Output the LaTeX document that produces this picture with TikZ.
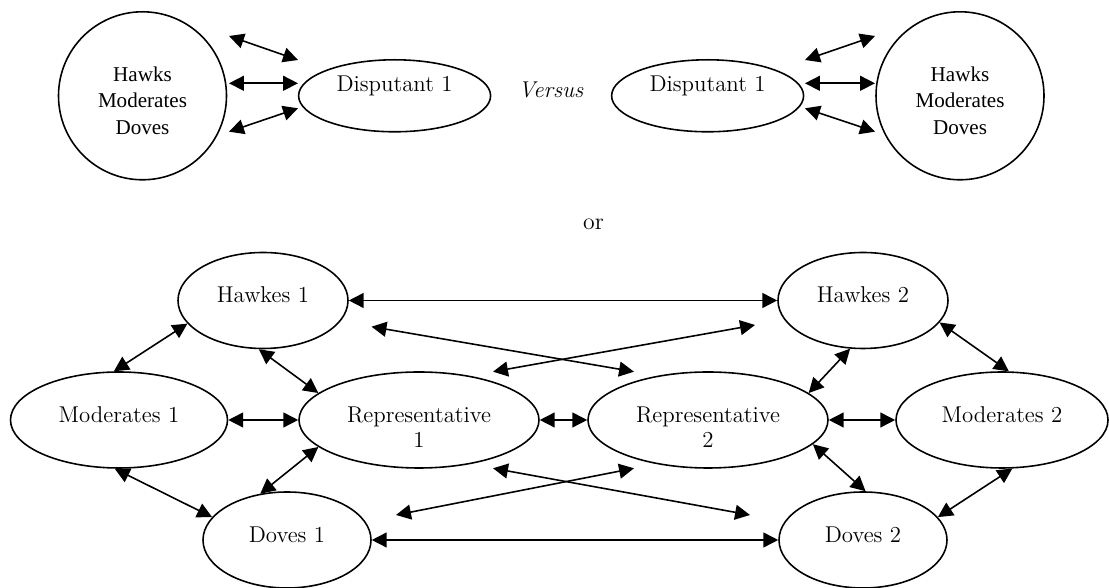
\documentclass[tikz,border=0pt]{standalone}
\usepackage{fontspec}
\newfontfamily\timesfont{Liberation Serif}
\usepackage{tikz}
\usetikzlibrary{shapes.geometric}
\usetikzlibrary{arrows.meta}

\tikzset{
  groupcirc/.style={draw, circle, line width=0.9pt, inner sep=0pt, minimum size=3.360000cm, align=center, text height=44pt, font=\timesfont\fontsize{12}{15}\selectfont},
  sidebox/.style={draw, ellipse, line width=0.9pt, inner sep=0pt, minimum width=3.840000cm, minimum height=1.440000cm, text height=9pt, text depth=14pt},
  partybox/.style={draw, ellipse, line width=0.9pt, inner sep=0pt, minimum height=1.920000cm, align=center},
  oneline/.style={text height=9pt, text depth=6.2pt},
  twoline/.style={text height=31.5pt},
  link/.style={line width=0.9pt, {Triangle[length=8.5pt,width=8.5pt]}-{Triangle[length=8.5pt,width=8.5pt]}},
}

\begin{document}
\begin{tikzpicture}[font=\fontsize{13}{14.2}\selectfont]
            \useasboundingbox (0,0) rectangle (22.180000,11.760000);%

            % Drawing the disputants and their groups
            \node [groupcirc] (circL) at (2.850000,9.844000) {Hawks\\Moderates\\Doves};%
            \node [sidebox] (dispL) at (7.892000,9.844000) {Disputant 1};%
            \node (versus) at (11.020000,9.960000) {\textit{Versus}};%
            \node [sidebox] (dispR) at (14.152000,9.844000) {Disputant 1};%
            \node [groupcirc] (circR) at (19.200000,9.844000) {Hawks\\Moderates\\Doves};%

            % Marking free ends of the upper arrows
            \coordinate (lta) at (4.580000,11.040000);%
            \coordinate (ltb) at (5.960000,10.560000);%
            \coordinate (lma) at (4.580000,10.094000);%
            \coordinate (lmb) at (5.960000,10.094000);%
            \coordinate (lba) at (4.580000,9.126000);%
            \coordinate (lbb) at (5.960000,9.594000);%
            \coordinate (rta) at (16.100000,10.560000);%
            \coordinate (rtb) at (17.500000,11.040000);%
            \coordinate (rma) at (16.100000,10.094000);%
            \coordinate (rmb) at (17.500000,10.094000);%
            \coordinate (rba) at (16.100000,9.594000);%
            \coordinate (rbb) at (17.500000,9.126000);%

            % Drawing the upper arrows
            \draw [link] (lta) -- (ltb);%
            \draw [link] (lma) -- (lmb);%
            \draw [link] (lba) -- (lbb);%
            \draw [link] (rta) -- (rtb);%
            \draw [link] (rma) -- (rmb);%
            \draw [link] (rba) -- (rbb);%

            % Marking the word in between
            \node [font=\fontsize{13.5}{15}\selectfont] (or) at (11.870000,7.280000) {or};%

            % Drawing the parties
            \node [partybox, oneline, minimum width=3.400000cm] (hawk1) at (5.260000,5.750000) {Hawkes 1};%
            \node [partybox, oneline, minimum width=3.400000cm] (hawk2) at (17.260000,5.750000) {Hawkes 2};%
            \node [partybox, oneline, minimum width=4.340000cm] (mod1) at (2.380000,3.360000) {Moderates 1};%
            \node [partybox, twoline, minimum width=4.800000cm] (rep1) at (8.380000,3.360000) {Representative\\1};%
            \node [partybox, twoline, minimum width=4.800000cm] (rep2) at (14.160000,3.360000) {Representative\\2};%
            \node [partybox, oneline, minimum width=4.240000cm] (mod2) at (20.040000,3.360000) {Moderates 2};%
            \node [partybox, oneline, minimum width=3.360000cm] (dove1) at (5.740000,0.960000) {Doves 1};%
            \node [partybox, oneline, minimum width=3.360000cm] (dove2) at (17.260000,0.960000) {Doves 2};%

            % Drawing straight links
            \draw [link] (hawk1.east) -- (hawk2.west);%
            \draw [link] (dove1.east) -- (dove2.west);%
            \draw [link] (mod1.east) -- (rep1.west);%
            \draw [link] (rep1.east) -- (rep2.west);%
            \draw [link] (rep2.east) -- (mod2.west);%

            % Drawing slanted links
            \draw [link] (mod1.96) -- (hawk1.197);%
            \draw [link] (hawk1.265) -- (rep1.165);%
            \draw [link] (mod1.265) -- (dove1.163);%
            \draw [link] (rep1.195) -- (dove1.120);%
            \draw [link] (hawk2.255) -- (rep2.15);%
            \draw [link] (hawk2.344) -- (mod2.82);%
            \draw [link] (rep2.347) -- (dove2.87);%
            \draw [link] (mod2.282) -- (dove2.17);%

            % Marking free ends of the crossing links
            \coordinate (xa1) at (7.430000,5.226000);%
            \coordinate (xa2) at (12.680000,4.326000);%
            \coordinate (xb1) at (9.860000,4.326000);%
            \coordinate (xb2) at (15.100000,5.260000);%
            \coordinate (xc1) at (9.860000,2.394000);%
            \coordinate (xc2) at (15.000000,1.460000);%
            \coordinate (xd1) at (7.920000,1.460000);%
            \coordinate (xd2) at (12.680000,2.394000);%

            % Drawing crossing links
            \draw [link] (xa1) -- (xa2);%
            \draw [link] (xb1) -- (xb2);%
            \draw [link] (xc1) -- (xc2);%
            \draw [link] (xd1) -- (xd2);%
\end{tikzpicture}
\end{document}
